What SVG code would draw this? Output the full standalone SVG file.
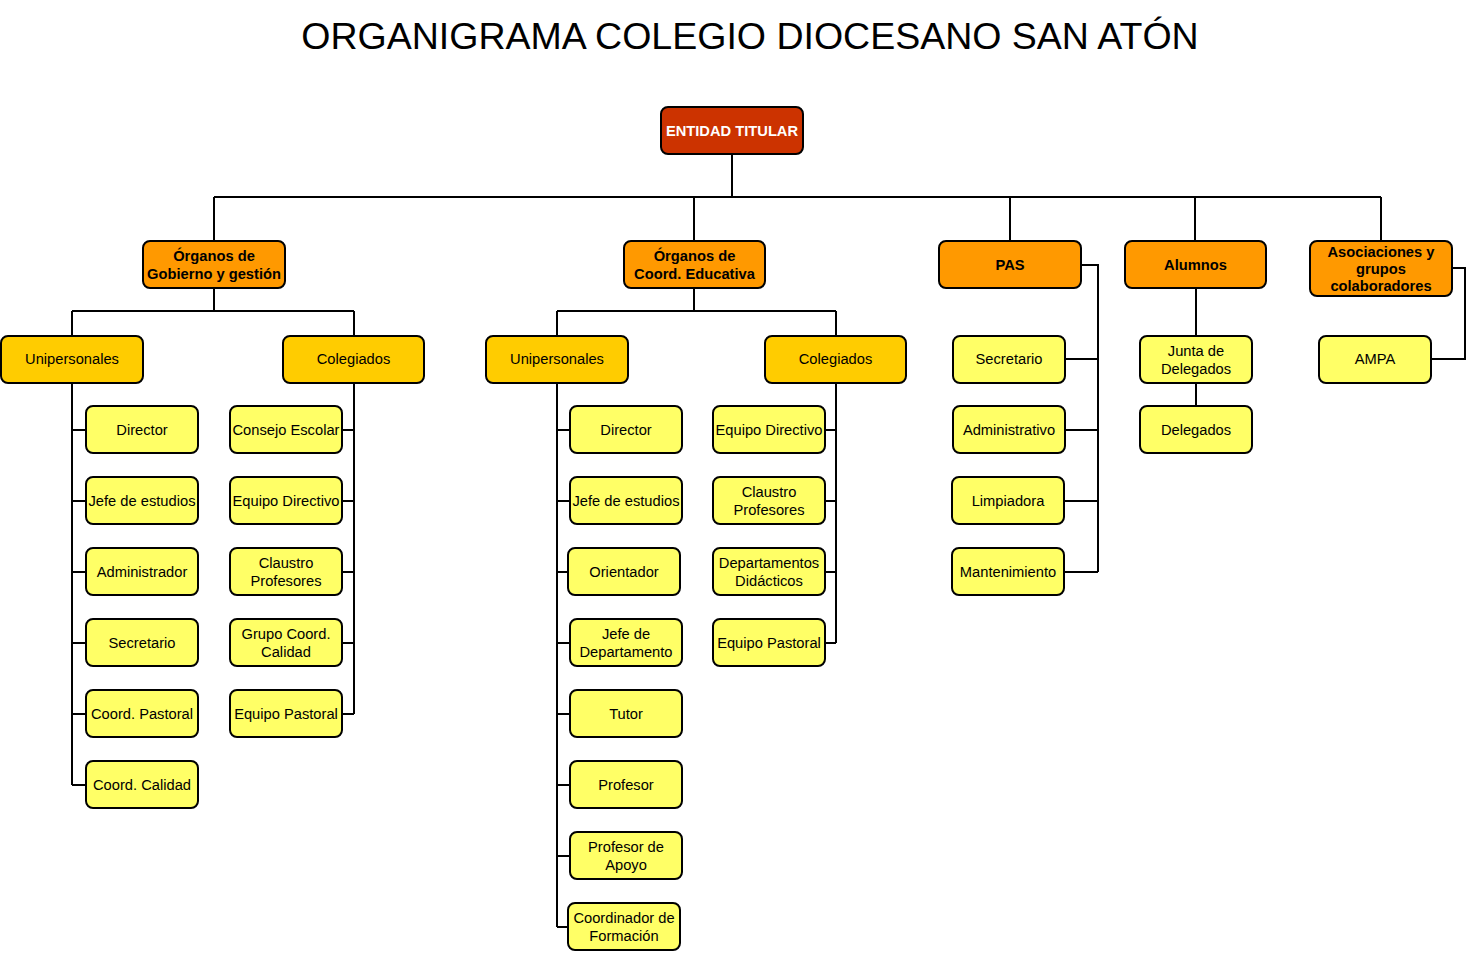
<svg xmlns="http://www.w3.org/2000/svg" width="1466" height="953" viewBox="0 0 1466 953">
<style>
text{font-family:"Liberation Sans",Arial,sans-serif;font-size:14.7px;text-anchor:middle;fill:#000}
.t{font-size:37.5px}
.b{font-weight:bold}
.w{fill:#fff}
.n rect{stroke:#000;stroke-width:2}
.r{fill:#CC3300}
.o{fill:#FF9900}
.g{fill:#FFCC00}
.y{fill:#FFFF66}
#conn path{fill:none;stroke:#000;stroke-width:2}
</style>
<rect x="0" y="0" width="1466" height="953" fill="#fff"/>
<text class="t" x="750" y="49">ORGANIGRAMA COLEGIO DIOCESANO SAN ATÓN</text>
<g id="conn">
<path d="M732 154V197M214 197H1381M214 197V241M694 197V241M1010 197V241M1195 197V241M1381 197V241"/>
<path d="M214 288V311M72 311H354M72 311V336M354 311V336"/>
<path d="M694 288V311M557 311H836M557 311V336M836 311V336"/>
<path d="M72 383V785M72 430H86M72 501H86M72 572H86M72 643H86M72 714H86M72 785H86"/>
<path d="M354 383V714M342 430H354M342 501H354M342 572H354M342 643H354M342 714H354"/>
<path d="M557 383V927M557 430H570M557 501H570M557 572H568M557 643H570M557 714H570M557 785H570M557 856H570M557 927H568"/>
<path d="M836 383V643M825 430H836M825 501H836M825 572H836M825 643H836"/>
<path d="M1081 265H1098V572M1065 359H1098M1065 430H1098M1064 501H1098M1064 572H1098"/>
<path d="M1196 288V336M1196 383V406"/>
<path d="M1452 268H1465V359H1431"/>
</g>
<g class="n">
<g id="entidad"><rect class="r" x="661" y="107" width="142" height="47" rx="7"/><text class="b w" x="732" y="135.5">ENTIDAD TITULAR</text></g>
<g id="gobierno"><rect class="o" x="143" y="241" width="142" height="47" rx="7"/><text class="b" x="214" y="261">Órganos de</text><text class="b" x="214" y="279">Gobierno y gestión</text></g>
<g id="coord"><rect class="o" x="624" y="241" width="141" height="47" rx="7"/><text class="b" x="694.5" y="261">Órganos de</text><text class="b" x="694.5" y="279">Coord. Educativa</text></g>
<g id="pas"><rect class="o" x="939" y="241" width="142" height="47" rx="7"/><text class="b" x="1010" y="270">PAS</text></g>
<g id="alumnos"><rect class="o" x="1125" y="241" width="141" height="47" rx="7"/><text class="b" x="1195.5" y="270">Alumnos</text></g>
<g id="asociaciones"><rect class="o" x="1310" y="241" width="142" height="55" rx="7"/><text class="b" x="1381" y="257">Asociaciones y</text><text class="b" x="1381" y="274">grupos</text><text class="b" x="1381" y="291">colaboradores</text></g>
<g id="uni1"><rect class="g" x="1" y="336" width="142" height="47" rx="7"/><text x="72" y="364">Unipersonales</text></g>
<g id="col1"><rect class="g" x="283" y="336" width="141" height="47" rx="7"/><text x="353.5" y="364">Colegiados</text></g>
<g id="uni2"><rect class="g" x="486" y="336" width="142" height="47" rx="7"/><text x="557" y="364">Unipersonales</text></g>
<g id="col2"><rect class="g" x="765" y="336" width="141" height="47" rx="7"/><text x="835.5" y="364">Colegiados</text></g>
<g id="g-director"><rect class="y" x="86" y="406" width="112" height="47" rx="7"/><text x="142" y="435">Director</text></g>
<g id="g-jefe"><rect class="y" x="86" y="477" width="112" height="47" rx="7"/><text x="142" y="506">Jefe de estudios</text></g>
<g id="g-admin"><rect class="y" x="86" y="548" width="112" height="47" rx="7"/><text x="142" y="577">Administrador</text></g>
<g id="g-secretario"><rect class="y" x="86" y="619" width="112" height="47" rx="7"/><text x="142" y="648">Secretario</text></g>
<g id="g-pastoral"><rect class="y" x="86" y="690" width="112" height="47" rx="7"/><text x="142" y="719">Coord. Pastoral</text></g>
<g id="g-calidad"><rect class="y" x="86" y="761" width="112" height="47" rx="7"/><text x="142" y="790">Coord. Calidad</text></g>
<g id="c-consejo"><rect class="y" x="230" y="406" width="112" height="47" rx="7"/><text x="286" y="435">Consejo Escolar</text></g>
<g id="c-equipo"><rect class="y" x="230" y="477" width="112" height="47" rx="7"/><text x="286" y="506">Equipo Directivo</text></g>
<g id="c-claustro"><rect class="y" x="230" y="548" width="112" height="47" rx="7"/><text x="286" y="568">Claustro</text><text x="286" y="586">Profesores</text></g>
<g id="c-grupo"><rect class="y" x="230" y="619" width="112" height="47" rx="7"/><text x="286" y="639">Grupo Coord.</text><text x="286" y="657">Calidad</text></g>
<g id="c-pastoral"><rect class="y" x="230" y="690" width="112" height="47" rx="7"/><text x="286" y="719">Equipo Pastoral</text></g>
<g id="e-director"><rect class="y" x="570" y="406" width="112" height="47" rx="7"/><text x="626" y="435">Director</text></g>
<g id="e-jefe"><rect class="y" x="570" y="477" width="112" height="47" rx="7"/><text x="626" y="506">Jefe de estudios</text></g>
<g id="e-orientador"><rect class="y" x="568" y="548" width="112" height="47" rx="7"/><text x="624" y="577">Orientador</text></g>
<g id="e-jefedep"><rect class="y" x="570" y="619" width="112" height="47" rx="7"/><text x="626" y="639">Jefe de</text><text x="626" y="657">Departamento</text></g>
<g id="e-tutor"><rect class="y" x="570" y="690" width="112" height="47" rx="7"/><text x="626" y="719">Tutor</text></g>
<g id="e-profesor"><rect class="y" x="570" y="761" width="112" height="47" rx="7"/><text x="626" y="790">Profesor</text></g>
<g id="e-apoyo"><rect class="y" x="570" y="832" width="112" height="47" rx="7"/><text x="626" y="852">Profesor de</text><text x="626" y="870">Apoyo</text></g>
<g id="e-formacion"><rect class="y" x="568" y="903" width="112" height="47" rx="7"/><text x="624" y="923">Coordinador de</text><text x="624" y="941">Formación</text></g>
<g id="d-equipo"><rect class="y" x="713" y="406" width="112" height="47" rx="7"/><text x="769" y="435">Equipo Directivo</text></g>
<g id="d-claustro"><rect class="y" x="713" y="477" width="112" height="47" rx="7"/><text x="769" y="497">Claustro</text><text x="769" y="515">Profesores</text></g>
<g id="d-departamentos"><rect class="y" x="713" y="548" width="112" height="47" rx="7"/><text x="769" y="568">Departamentos</text><text x="769" y="586">Didácticos</text></g>
<g id="d-pastoral"><rect class="y" x="713" y="619" width="112" height="47" rx="7"/><text x="769" y="648">Equipo Pastoral</text></g>
<g id="p-secretario"><rect class="y" x="953" y="336" width="112" height="47" rx="7"/><text x="1009" y="364">Secretario</text></g>
<g id="p-admin"><rect class="y" x="953" y="406" width="112" height="47" rx="7"/><text x="1009" y="435">Administrativo</text></g>
<g id="p-limpiadora"><rect class="y" x="952" y="477" width="112" height="47" rx="7"/><text x="1008" y="506">Limpiadora</text></g>
<g id="p-mantenimiento"><rect class="y" x="952" y="548" width="112" height="47" rx="7"/><text x="1008" y="577">Mantenimiento</text></g>
<g id="a-junta"><rect class="y" x="1140" y="336" width="112" height="47" rx="7"/><text x="1196" y="356">Junta de</text><text x="1196" y="374">Delegados</text></g>
<g id="a-delegados"><rect class="y" x="1140" y="406" width="112" height="47" rx="7"/><text x="1196" y="435">Delegados</text></g>
<g id="ampa"><rect class="y" x="1319" y="336" width="112" height="47" rx="7"/><text x="1375" y="364">AMPA</text></g>
</g>
</svg>
